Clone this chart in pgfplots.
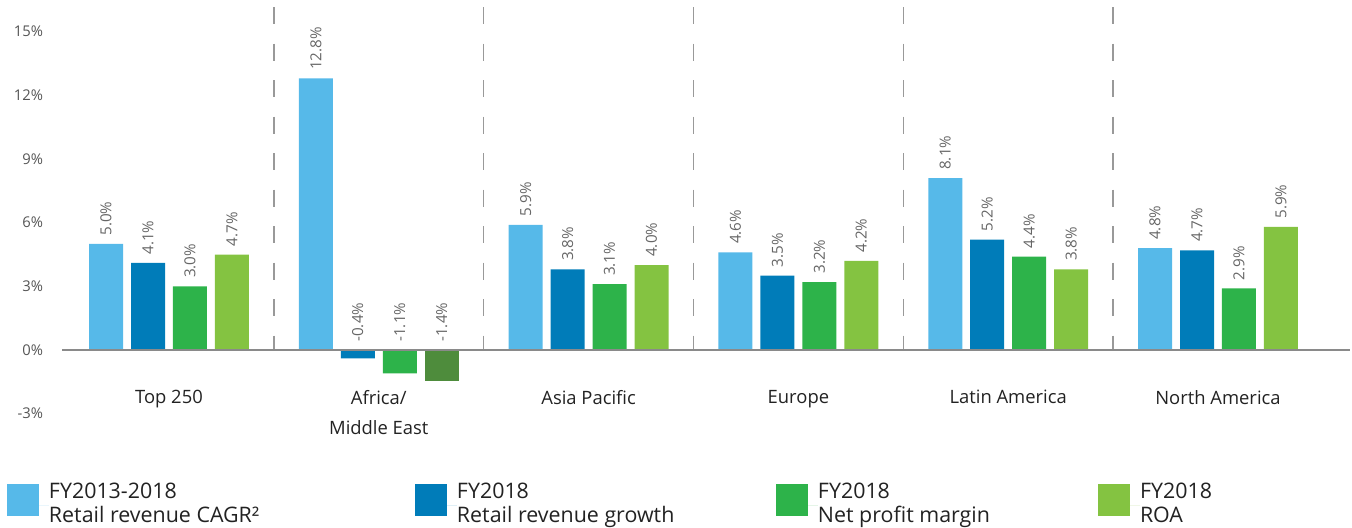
\documentclass[border=0pt]{standalone}
\usepackage{fontspec}
\setmainfont{Open Sans}
\usepackage{pgfplots}
\usepackage{pgfplotstable}
\pgfplotsset{compat=1.18}
\definecolor{cA}{HTML}{56B9E9}
\definecolor{cB}{HTML}{007CB9}
\definecolor{cC}{HTML}{2DB34A}
\definecolor{cD}{HTML}{84C341}
\definecolor{cE}{HTML}{4E8C3C}
\definecolor{tickgray}{HTML}{555555}
\definecolor{labgray}{HTML}{666666}
\definecolor{txt}{HTML}{222222}
\definecolor{axgray}{HTML}{8A8A8A}
\definecolor{sepgray}{HTML}{999999}

% g = region index, v = bar height, lab = printed label
\pgfplotstableread{
g v lab
0 5.0 5.0
1 12.8 12.8
2 5.9 5.9
3 4.6 4.6
4 8.1 8.1
5 4.8 4.8
}\tA
\pgfplotstableread{
g v lab
0 4.1 4.1
1 -0.4 -0.4
2 3.8 3.8
3 3.5 3.5
4 5.2 5.2
5 4.7 4.7
}\tB
\pgfplotstableread{
g v lab
0 3.0 3.0
1 -1.1 -1.1
2 3.1 3.1
3 3.2 3.2
4 4.4 4.4
5 2.9 2.9
}\tC
\pgfplotstableread{
g v lab
0 4.5 4.7
2 4.0 4.0
3 4.2 4.2
4 3.8 3.8
5 5.8 5.9
}\tD
\pgfplotstableread{
g v lab
1 -1.45 -1.4
}\tE

\pgfplotsset{
  sq legend/.style={legend image code/.code={
    \fill[##1] (0pt,-5.3pt) rectangle (16pt,10.7pt);
    \path (0pt,0pt) -- (21pt,0pt);}},
  barlab/.style={forget plot, draw=none, nodes near coords, point meta=explicit symbolic,
    nodes near coords={\pgfplotspointmeta\%},
    nodes near coords style={anchor=west, rotate=90, inner xsep=4pt, inner ysep=0pt,
      font=\fontsize{7.6}{9}\selectfont, text=labgray}},
}

\begin{document}
\begin{tikzpicture}
\useasboundingbox (0,0) rectangle (676pt,264pt);
\begin{axis}[
  x=104.9pt, y=10.61pt,
  at={(32.05pt,57.17pt)}, anchor=south west,
  xmin=-0.5, xmax=5.63, ymin=-3, ymax=16.16,
  axis line style={draw=none},
  major tick length=0pt,
  tick style={draw=none},
  ytick={-3,0,3,6,9,12,15},
  yticklabels={-3\%,0\%,3\%,6\%,9\%,12\%,15\%},
  yticklabel style={anchor=east, inner sep=0pt, xshift=-10.3pt,
    font=\fontsize{7.4}{9}\selectfont, text=tickgray},
  xtick={0,1,2,3,4,5},
  xticklabels={Top 250, Africa/\\Middle East, Asia Pacific, Europe, Latin America, North America},
  xticklabel style={align=center, anchor=north, inner sep=0pt, yshift=11.85pt,
    font=\fontsize{9.2}{15}\selectfont, text=txt},
  clip=false,
  legend columns=4,
  legend cell align=left,
  legend style={draw=none, fill=none, at={(-0.0444,-0.1651)}, anchor=north west,
    inner sep=0pt, outer sep=0pt, column sep=0pt, row sep=0pt,
    nodes={inner sep=0pt, text depth=, text=txt},
    font=\fontsize{10.7}{12.3}\selectfont},
]
\addplot[ybar, bar width=17pt, bar shift=0pt, fill=cA, draw=none, sq legend]
  table[x expr=\thisrow{g}-0.3, y=v] {\tA};
\addlegendentry{\parbox{183pt}{\strut FY2013-2018\\Retail revenue CAGR²\strut}}
\addplot[ybar, bar width=17pt, bar shift=0pt, fill=cB, draw=none, sq legend]
  table[x expr=\thisrow{g}-0.1, y=v] {\tB};
\addlegendentry{\parbox{159.5pt}{\strut FY2018\\Retail revenue growth\strut}}
\addplot[ybar, bar width=17pt, bar shift=0pt, fill=cC, draw=none, sq legend]
  table[x expr=\thisrow{g}+0.1, y=v] {\tC};
\addlegendentry{\parbox{140pt}{\strut FY2018\\Net profit margin\strut}}
\addplot[ybar, bar width=17pt, bar shift=0pt, fill=cD, draw=none, sq legend]
  table[x expr=\thisrow{g}+0.3, y=v] {\tD};
\addlegendentry{\parbox{80pt}{\strut FY2018\\ROA\strut}}
\addplot[ybar, bar width=17pt, bar shift=0pt, fill=cE, draw=none, forget plot]
  table[x expr=\thisrow{g}+0.3, y=v] {\tE};

% value labels
\addplot[barlab] table[x expr=\thisrow{g}-0.3, y expr={max(\thisrow{v},0)}, meta=lab] {\tA};
\addplot[barlab] table[x expr=\thisrow{g}-0.1, y expr={max(\thisrow{v},0)}, meta=lab] {\tB};
\addplot[barlab] table[x expr=\thisrow{g}+0.1, y expr={max(\thisrow{v},0)}, meta=lab] {\tC};
\addplot[barlab] table[x expr=\thisrow{g}+0.3, y expr={max(\thisrow{v},0)}, meta=lab] {\tD};
\addplot[barlab] table[x expr=\thisrow{g}+0.3, y expr={max(\thisrow{v},0)}, meta=lab] {\tE};

% dashed region separators
\addplot[forget plot, color=sepgray, line width=0.75pt, dash pattern=on 8.5pt off 9.75pt] coordinates {(0.5,16.16) (0.5,0)};
\addplot[forget plot, color=sepgray, line width=0.75pt, dash pattern=on 8.5pt off 9.75pt] coordinates {(1.5,16.16) (1.5,0)};
\addplot[forget plot, color=sepgray, line width=0.75pt, dash pattern=on 8.5pt off 9.75pt] coordinates {(2.5,16.16) (2.5,0)};
\addplot[forget plot, color=sepgray, line width=0.75pt, dash pattern=on 8.5pt off 9.75pt] coordinates {(3.5,16.16) (3.5,0)};
\addplot[forget plot, color=sepgray, line width=0.75pt, dash pattern=on 8.5pt off 9.75pt] coordinates {(4.5,16.16) (4.5,0)};
% zero line
\addplot[forget plot, color=axgray, line width=1.3pt] coordinates {(-0.51,0) (5.63,0)};
\end{axis}
\end{tikzpicture}
\end{document}
